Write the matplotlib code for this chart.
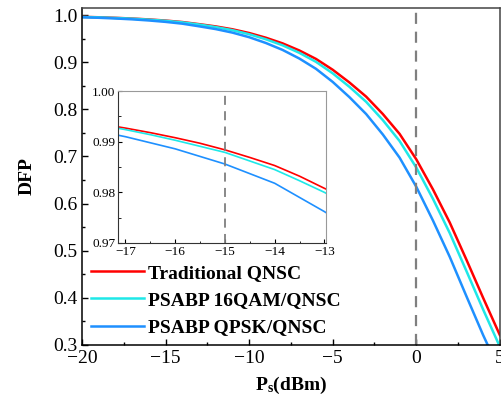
import matplotlib
matplotlib.use("Agg")
import matplotlib.pyplot as plt
from matplotlib.ticker import MultipleLocator

plt.rcParams["font.family"] = ["Liberation Serif", "DejaVu Serif"]
plt.rcParams["mathtext.fontset"] = "custom"
plt.rcParams["mathtext.rm"] = "Liberation Serif"
plt.rcParams["mathtext.bf"] = "Liberation Serif:bold"

# main curves (P_s in dBm)
ps = [-20, -19, -18, -17, -16, -15, -14, -13, -12, -11, -10, -9, -8,
      -7, -6, -5, -4, -3, -2, -1, 0, 1, 2, 3, 4, 5]
dfp_trad = [0.9963, 0.9954, 0.9942, 0.9927, 0.9908, 0.9884, 0.9853, 0.9808,
            0.9760, 0.9699, 0.9620, 0.9520, 0.9400, 0.9250, 0.9070, 0.8840,
            0.8570, 0.8270, 0.7900, 0.7480, 0.6940, 0.6300, 0.5600, 0.4810,
            0.4000, 0.3210]
dfp_16qam = [0.9961, 0.9952, 0.9939, 0.9924, 0.9903, 0.9879, 0.9846, 0.9800,
             0.9746, 0.9680, 0.9594, 0.9487, 0.9359, 0.9200, 0.9008, 0.8764,
             0.8478, 0.8160, 0.7771, 0.7329, 0.6765, 0.6099, 0.5377, 0.4570,
             0.3752, 0.2964]
dfp_qpsk = [0.9954, 0.9943, 0.9928, 0.9910, 0.9886, 0.9856, 0.9818, 0.9762,
            0.9703, 0.9628, 0.9531, 0.9408, 0.9261, 0.9079, 0.8860, 0.8582,
            0.8259, 0.7901, 0.7466, 0.6976, 0.6357, 0.5639, 0.4872, 0.4035,
            0.3210, 0.2444]

# zoomed region in the inset
ps_zoom = [-17.5, -17, -16.5, -16, -15.5, -15, -14.5, -14, -13.5, -13, -12.5]
zoom_trad = [0.9935, 0.9927, 0.9918, 0.9908, 0.9897, 0.9884, 0.9869, 0.9853,
             0.9832, 0.9808, 0.9786]
zoom_16qam = [0.9933, 0.9924, 0.9914, 0.9903, 0.9891, 0.9879, 0.9862, 0.9845,
              0.9823, 0.9800, 0.9774]
zoom_qpsk = [0.9920, 0.9910, 0.9898, 0.9886, 0.9871, 0.9856, 0.9837, 0.9818,
             0.9790, 0.9762, 0.9731]

labels = ["Traditional QNSC", "PSABP 16QAM/QNSC", "PSABP QPSK/QNSC"]
colors = ["#ff0000", "#1ee8e8", "#1e90ff"]

fig = plt.figure(figsize=(5.01, 4.16), dpi=100)
ax = fig.add_axes([0.1637, 0.1707, 0.834, 0.810])

for y, lab, c in zip([dfp_trad, dfp_16qam, dfp_qpsk], labels, colors):
    ax.plot(ps, y, color=c, lw=1.8, label=lab)
ax.axvline(0, color="#7f7f7f", lw=1.6, ls=(0, (5, 3.5)))

ax.set_xlim(-20, 5)
ax.set_ylim(0.3, 1.015)
ax.xaxis.set_major_locator(MultipleLocator(5))
ax.xaxis.set_minor_locator(MultipleLocator(2.5))
ax.yaxis.set_major_locator(MultipleLocator(0.1))
ax.yaxis.set_minor_locator(MultipleLocator(0.05))
ax.tick_params(which="both", direction="in", labelsize=14)
ax.tick_params(which="major", length=4, width=1)
ax.tick_params(which="minor", length=2.5, width=1)
for s in ax.spines.values():
    s.set_linewidth(1.1)
ax.spines["top"].set_color("#444444")
ax.spines["right"].set_color("#444444")
ax.set_xlabel(r"$\mathbf{P_s}$(dBm)", fontsize=14, fontweight="bold", labelpad=6)
ax.set_ylabel("DFP", fontsize=14, fontweight="bold", labelpad=12)

ax.legend(loc="lower left", bbox_to_anchor=(-0.011, -0.015), frameon=False,
          prop={"weight": "bold", "size": 14}, handlelength=2.7,
          handletextpad=0.25, labelspacing=0.5, borderaxespad=0.3)

# inset
ins = fig.add_axes([0.2355, 0.4159, 0.415, 0.365])
for y, c in zip([zoom_trad, zoom_16qam, zoom_qpsk], colors):
    ins.plot(ps_zoom, y, color=c, lw=1.2)
ins.axvline(-15, color="#7f7f7f", lw=1.3, ls=(0, (5, 3.5)))
ins.set_xlim(-17.15, -12.97)
ins.set_ylim(0.97, 1.0)
ins.xaxis.set_major_locator(MultipleLocator(1))
ins.xaxis.set_minor_locator(MultipleLocator(0.5))
ins.yaxis.set_major_locator(MultipleLocator(0.01))
ins.yaxis.set_minor_locator(MultipleLocator(0.005))
ins.tick_params(which="both", direction="in", labelsize=9.5, pad=2)
ins.tick_params(which="major", length=3)
ins.tick_params(which="minor", length=1.8)
for s in ins.spines.values():
    s.set_color("#999999")
ins.spines["left"].set_color("#333333")
ins.spines["bottom"].set_color("#333333")

fig.savefig("out.png", dpi=100)
plt.close(fig)
